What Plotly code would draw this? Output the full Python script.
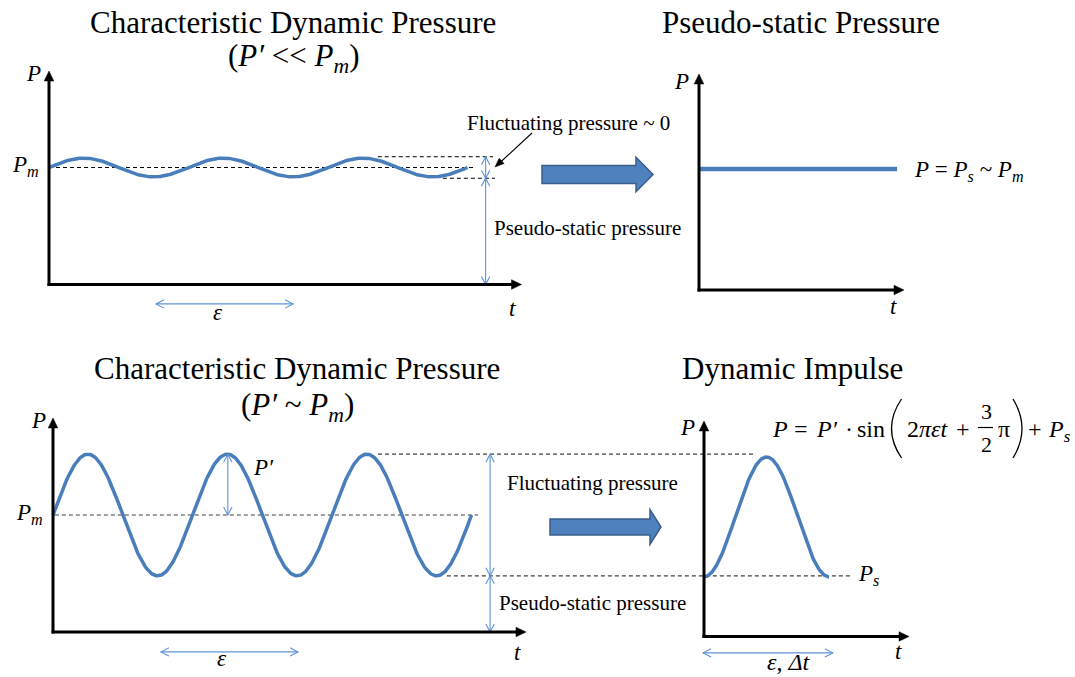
import numpy as np
import plotly.graph_objects as go

# ---------------- data ----------------
# Top-left: characteristic dynamic pressure with P' << Pm
A_PM = 5.0          # mean pressure P_m
A_AMP = 0.4         # fluctuating amplitude P'
A_PERIOD = 3.0      # characteristic period (epsilon)
A_TEND = 9.0        # end of the drawn signal
A_BAND = 0.46       # half height of the dashed fluctuation band
A_EPS_SPAN = [2.30, 5.25]

# Top-right: pseudo-static pressure
B_PS = 5.17
B_TSPAN = [0.02, 4.26]

# Bottom-left: characteristic dynamic pressure with P' ~ Pm
C_PM = 5.0
C_AMP = 2.6
C_PERIOD = 3.0
C_TEND = 9.0
C_EPS_SPAN = [2.32, 5.27]
C_PPRIME_T = 3.76

# Bottom-right: dynamic impulse
D_PS = 2.55
D_AMP = 2.56
D_DT = 2.69
D_EPS_SPAN = [-0.02, 2.77]

# ---------------- layout constants ----------------
W, H = 1075, 677
SX, SY = 46.5, 23.4          # pixels per unit (t, P)
SERIF = "Liberation Serif"
WAVE = "#4a7ebb"
THIN = "#5f93d3"

PANELS = [
    dict(ox=49, oy=284.5, box=(0, 540, 60, 330), xtip=521.5, ytip=71),
    dict(ox=699, oy=290, box=(660, 1075, 60, 330), xtip=904, ytip=74),
    dict(ox=53, oy=632, box=(0, 870, 395, 677), xtip=526, ytip=418),
    dict(ox=704, oy=636.5, box=(660, 1075, 395, 677), xtip=909, ytip=421),
]

fig = go.Figure()
refs = []
for i, p in enumerate(PANELS):
    L, R, T, B = p["box"]
    sfx = "" if i == 0 else str(i + 1)
    fig.layout["xaxis" + sfx] = dict(domain=[L / W, R / W], range=[(L - p["ox"]) / SX, (R - p["ox"]) / SX],
                                     visible=False, fixedrange=True, anchor="y" + sfx)
    fig.layout["yaxis" + sfx] = dict(domain=[1 - B / H, 1 - T / H], range=[(p["oy"] - B) / SY, (p["oy"] - T) / SY],
                                     visible=False, fixedrange=True, anchor="x" + sfx)
    refs.append(("x" + sfx, "y" + sfx))

PAPER = ("paper", "paper")
annotations = []
shapes = []


def scales(ref):
    return (W, H) if ref == PAPER else (SX, SY)


def seg(ref, x0, y0, x1, y1, color, width, dash="solid", layer="above"):
    shapes.append(dict(type="line", xref=ref[0], yref=ref[1], x0=x0, x1=x1, y0=y0, y1=y1,
                       line=dict(color=color, width=width, dash=dash), layer=layer))


def head(ref, xt, yt, xf, yf, length, half, color, width, filled):
    """arrow head with its tip at (xt, yt), pointing away from (xf, yf); sizes in pixels"""
    sx, sy = scales(ref)
    dx, dy = (xt - xf) * sx, -(yt - yf) * sy
    n = (dx * dx + dy * dy) ** 0.5
    ux, uy = dx / n, dy / n
    nx, ny = -uy, ux
    pts = [(-length * ux + half * nx, -length * uy + half * ny), (0, 0),
           (-length * ux - half * nx, -length * uy - half * ny)]
    s = [f"{xt + ox / sx:.6f},{yt - oy / sy:.6f}" for ox, oy in pts]
    if filled:
        path = f"M {s[0]} L {s[1]} L {s[2]} Z"
        shapes.append(dict(type="path", xref=ref[0], yref=ref[1], path=path, fillcolor=color,
                           line=dict(color=color, width=0.5)))
    else:
        path = f"M {s[0]} L {s[1]} L {s[2]}"
        shapes.append(dict(type="path", xref=ref[0], yref=ref[1], path=path,
                           line=dict(color=color, width=width)))


def double_arrow(ref, x0, y0, x1, y1, color=THIN, width=1.1, length=8, half=4.2):
    seg(ref, x0, y0, x1, y1, color, width)
    head(ref, x1, y1, x0, y0, length, half, color, width, False)
    head(ref, x0, y0, x1, y1, length, half, color, width, False)


def axes_arrows(i):
    p = PANELS[i]
    ref = refs[i]
    tmax = (p["xtip"] - p["ox"]) / SX
    pmax = (p["oy"] - p["ytip"]) / SY
    seg(ref, -1.5 / SX, 0, tmax - 6 / SX, 0, "black", 3)
    head(ref, tmax, 0, 0, 0, 10, 4.8, "black", 1, True)
    seg(ref, 0, -1.5 / SY, 0, pmax - 6 / SY, "black", 3)
    head(ref, 0, pmax, 0, 0, 10, 4.8, "black", 1, True)


def dashed(x0, x1, y, ref, color, width=1.0, dash="4px,3px"):
    seg(ref, x0, y, x1, y, color, width, dash, "below")


def text(s, x, y, size, xanchor="center", yanchor="middle", family=SERIF):
    annotations.append(dict(text=s, x=x / W, y=1 - y / H, xref="paper", yref="paper", showarrow=False,
                            xanchor=xanchor, yanchor=yanchor, font=dict(family=family, size=size, color="black")))


def block_arrow(x0, xh, xt, yc, bh, hh):
    pts = [(x0, yc - bh / 2), (xh, yc - bh / 2), (xh, yc - hh / 2), (xt, yc), (xh, yc + hh / 2),
           (xh, yc + bh / 2), (x0, yc + bh / 2)]
    path = "M " + " L ".join(f"{x / W:.5f},{1 - y / H:.5f}" for x, y in pts) + " Z"
    shapes.append(dict(type="path", xref="paper", yref="paper", path=path, fillcolor="#4f81bd",
                       line=dict(color="#385d8a", width=1.5)))


def curve(x0, y0, xc, yc, x1, y1):
    path = f"M {x0 / W:.5f},{1 - y0 / H:.5f} Q {xc / W:.5f},{1 - yc / H:.5f} {x1 / W:.5f},{1 - y1 / H:.5f}"
    shapes.append(dict(type="path", xref="paper", yref="paper", path=path, line=dict(color="black", width=1.3)))


# ---------------- panel A ----------------
tA = np.linspace(0, A_TEND, 400)
fig.add_trace(go.Scatter(x=tA, y=A_PM + A_AMP * np.sin(2 * np.pi * tA / A_PERIOD), mode="lines",
                         line=dict(color=WAVE, width=3.5), xaxis=refs[0][0], yaxis=refs[0][1],
                         hoverinfo="skip", showlegend=False))
dashed(0, 9.12, A_PM, refs[0], "black")
dashed(7.07, 9.55, A_PM + A_BAND, refs[0], "black")
dashed(8.47, 9.59, A_PM - A_BAND, refs[0], "black")
double_arrow(refs[0], 9.39, A_PM + A_BAND, 9.39, A_PM - A_BAND)
double_arrow(refs[0], 9.39, A_PM - A_BAND, 9.39, 0)
double_arrow(refs[0], A_EPS_SPAN[0], -0.83, A_EPS_SPAN[1], -0.83)
axes_arrows(0)

# ---------------- panel B ----------------
fig.add_trace(go.Scatter(x=B_TSPAN, y=[B_PS, B_PS], mode="lines", line=dict(color=WAVE, width=4.5),
                         xaxis=refs[1][0], yaxis=refs[1][1], hoverinfo="skip", showlegend=False))
axes_arrows(1)

# ---------------- panel C ----------------
tC = np.linspace(0, C_TEND, 500)
fig.add_trace(go.Scatter(x=tC, y=C_PM + C_AMP * np.sin(2 * np.pi * tC / C_PERIOD), mode="lines",
                         line=dict(color=WAVE, width=3.5), xaxis=refs[2][0], yaxis=refs[2][1],
                         hoverinfo="skip", showlegend=False))
dashed(0.04, 9.14, C_PM, refs[2], "#404040", 1.2)
dashed(6.99, 15.1, C_PM + C_AMP, refs[2], "#404040", 1.2)
dashed(8.47, 17.14, C_PM - C_AMP, refs[2], "#404040", 1.2)
double_arrow(refs[2], 9.4, C_PM + C_AMP, 9.4, C_PM - C_AMP)
double_arrow(refs[2], 9.4, C_PM - C_AMP, 9.4, 0)
double_arrow(refs[2], C_PPRIME_T, C_PM + C_AMP, C_PPRIME_T, C_PM)
double_arrow(refs[2], C_EPS_SPAN[0], -0.85, C_EPS_SPAN[1], -0.85)
axes_arrows(2)

# ---------------- panel D ----------------
tD = np.linspace(0, D_DT, 300)
fig.add_trace(go.Scatter(x=tD, y=D_AMP * np.sin(2 * np.pi * tD / D_DT + 1.5 * np.pi) + D_AMP + D_PS,
                         mode="lines", line=dict(color=WAVE, width=3.5), xaxis=refs[3][0], yaxis=refs[3][1],
                         hoverinfo="skip", showlegend=False))
double_arrow(refs[3], D_EPS_SPAN[0], -0.7, D_EPS_SPAN[1], -0.7)
axes_arrows(3)

# ---------------- connecting decorations ----------------
block_arrow(542, 636, 653, 174.5, 18, 34.5)
block_arrow(550, 650, 661, 527, 16, 35)
seg(PAPER, 532 / W, 1 - 133 / H, 499 / W, 1 - 163.5 / H, "black", 1.1)
head(PAPER, 495 / W, 1 - 167 / H, 532 / W, 1 - 133 / H, 9, 3.6, "black", 1, True)

# ---------------- texts ----------------
text("Characteristic Dynamic Pressure", 293, 22, 31)
text("(<i>P′</i> &lt;&lt; <i>P<sub>m</sub></i>)", 293, 58, 31)
text("Pseudo-static Pressure", 801, 22, 31)
text("Characteristic Dynamic Pressure", 297, 368, 31)
text("(<i>P′</i> ~ <i>P<sub>m</sub></i>)", 297, 407, 31)
text("Dynamic Impulse", 792, 368, 31)

text("Fluctuating pressure ~ 0", 568, 123, 21)
text("Pseudo-static pressure", 587, 228, 21)
text("Fluctuating pressure", 592, 483, 21)
text("Pseudo-static pressure", 592, 603, 21)

text("<i>P</i>", 33, 73, 23)
text("<i>P<sub>m</sub></i>", 10, 166, 23, xanchor="left")
text("<i>t</i>", 512, 308, 23)
text("<i>ε</i>", 218, 312, 23)

text("<i>P</i>", 681, 81, 23)
text("<i>P</i> = <i>P<sub>s</sub></i> ~ <i>P<sub>m</sub></i>", 912, 171, 23, xanchor="left")
text("<i>t</i>", 893, 306, 23)

text("<i>P</i>", 38, 420, 23)
text("<i>P<sub>m</sub></i>", 14, 514, 23, xanchor="left")
text("<i>P′</i>", 263, 468, 23)
text("<i>t</i>", 517, 652, 23)
text("<i>ε</i>", 222, 658, 23)

text("<i>P</i>", 687, 427, 23)
text("<i>P<sub>s</sub></i>", 856, 575, 23, xanchor="left")
text("<i>t</i>", 898, 651, 23)
text("<i>ε</i>, <i>Δt</i>", 789, 677, 24, yanchor="bottom")

# formula  P = P'·sin(2πεt + 3/2 π) + Ps
text("<i>P</i>", 780, 429, 24)
text("=", 801, 429, 24)
text("<i>P′</i>", 814, 429, 24, xanchor="left")
text("·", 849, 429, 24)
text("sin", 855, 429, 24, xanchor="left")
curve(901.5, 399, 881.5, 428.5, 901.5, 458)
text("2<i>πεt</i>", 905, 429, 24, xanchor="left")
text("+", 963, 429, 24)
text("3", 986, 411, 22)
shapes.append(dict(type="line", xref="paper", yref="paper", x0=978 / W, x1=993 / W, y0=1 - 427.5 / H,
                   y1=1 - 427.5 / H, line=dict(color="black", width=1.2)))
text("2", 986, 444, 22)
text("π", 1004, 429, 24)
curve(1013, 399, 1031, 428.5, 1013, 458)
text("+", 1035, 429, 24)
text("<i>P<sub>s</sub></i>", 1046, 431, 24, xanchor="left")

fig.update_layout(width=W, height=H, margin=dict(l=0, r=0, t=0, b=0), paper_bgcolor="white",
                  plot_bgcolor="rgba(0,0,0,0)", showlegend=False, annotations=annotations, shapes=shapes)
fig.write_html("out.html", config={"displayModeBar": False})
